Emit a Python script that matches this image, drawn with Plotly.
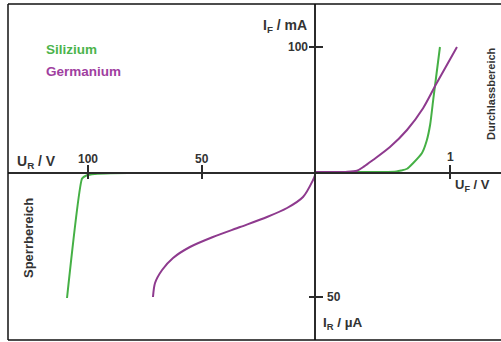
import plotly.graph_objects as go

# ---------------- data ----------------
# forward region (U_F in V, I_F in mA)
si_fwd_u = [0.0, 0.30, 0.50, 0.60, 0.635, 0.68, 0.724, 0.791, 0.826, 0.852, 0.875, 0.900, 0.925]
si_fwd_i = [0.0, 0.02, 0.10, 0.50, 1.2, 2.6, 7.0, 15.2, 25.0, 38.0, 58.0, 79.0, 100.0]
ge_fwd_u = [0.0, 0.22, 0.306, 0.36, 0.425, 0.552, 0.679, 0.799, 0.900, 1.052]
ge_fwd_i = [0.0, 0.1, 1.0, 4.5, 9.6, 20.0, 33.6, 51.0, 71.0, 100.0]
# reverse region (U_R in V, I_R in uA)
si_rev_u = [0.0, 60.0, 90.0, 97.0, 100.5, 102.6, 109.2]
si_rev_i = [0.0, 0.2, 0.5, 0.8, 1.3, 2.6, 50.4]
ge_rev_u = [0.0, 0.4, 1.3, 5.7, 12.7, 21.5, 33.3, 45.2, 55.3, 62.7, 67.5, 70.6, 71.5]
ge_rev_i = [0.0, 1.2, 3.2, 10.0, 14.4, 18.0, 22.0, 26.0, 30.0, 34.4, 39.2, 44.4, 50.0]

fwd_u_ticks = [1]
fwd_u_labels = ["1"]
fwd_i_ticks = [100]
fwd_i_labels = ["100"]
rev_u_ticks = [100, 50]
rev_u_labels = ["100", "50"]
rev_i_ticks = [50]
rev_i_labels = ["50"]

# ---------------- geometry ----------------
W, H = 501, 342
OX, OY = 316, 172          # origin in pixels
PX_FV = 134.0              # px per V (forward)
PX_FI = 1.25               # px per mA
PX_RV = 2.28               # px per V (reverse)
PX_RI = 2.5                # px per uA
LEFT, TOP, BOTTOM = 8, 4, 340

def fx(px):
    return px / W

def fy(py):
    return 1 - py / H

GREEN = "#45b045"
PURPLE = "#8e3a8e"
TXT = "#333333"
AX = "#2b2b2b"
FONT = "Liberation Sans"

fig = go.Figure()

fig.add_trace(go.Scatter(x=si_fwd_u, y=si_fwd_i, xaxis="x", yaxis="y", mode="lines",
                         line=dict(color=GREEN, width=2, shape="spline", smoothing=0.6),
                         showlegend=False, hoverinfo="skip"))
fig.add_trace(go.Scatter(x=ge_fwd_u, y=ge_fwd_i, xaxis="x", yaxis="y", mode="lines",
                         line=dict(color=PURPLE, width=2, shape="spline", smoothing=0.8),
                         showlegend=False, hoverinfo="skip"))
fig.add_trace(go.Scatter(x=si_rev_u, y=si_rev_i, xaxis="x2", yaxis="y2", mode="lines",
                         line=dict(color=GREEN, width=2, shape="spline", smoothing=0.4),
                         showlegend=False, hoverinfo="skip"))
fig.add_trace(go.Scatter(x=ge_rev_u, y=ge_rev_i, xaxis="x2", yaxis="y2", mode="lines",
                         line=dict(color=PURPLE, width=2, shape="spline", smoothing=0.8),
                         showlegend=False, hoverinfo="skip"))

# crossing tick marks
tick_marker_v = dict(symbol="line-ns", size=10, line=dict(color=AX, width=2))
tick_marker_h = dict(symbol="line-ew", size=10, line=dict(color=AX, width=2))
fig.add_trace(go.Scatter(x=fwd_u_ticks, y=[0] * len(fwd_u_ticks), xaxis="x", yaxis="y",
                         mode="markers", marker=tick_marker_v, cliponaxis=False,
                         showlegend=False, hoverinfo="skip"))
fig.add_trace(go.Scatter(x=rev_u_ticks, y=[0] * len(rev_u_ticks), xaxis="x2", yaxis="y2",
                         mode="markers", marker=tick_marker_v, cliponaxis=False,
                         showlegend=False, hoverinfo="skip"))
fig.add_trace(go.Scatter(x=[0] * len(fwd_i_ticks), y=fwd_i_ticks, xaxis="x", yaxis="y",
                         mode="markers", marker=tick_marker_h, cliponaxis=False,
                         showlegend=False, hoverinfo="skip"))
fig.add_trace(go.Scatter(x=[0] * len(rev_i_ticks), y=rev_i_ticks, xaxis="x2", yaxis="y2",
                         mode="markers", marker=tick_marker_h, cliponaxis=False,
                         showlegend=False, hoverinfo="skip"))

axis_common = dict(showgrid=False, zeroline=False, showticklabels=False, ticks="",
                   showline=True, linecolor=AX, linewidth=2, fixedrange=True)

fig.update_layout(
    width=W, height=H,
    margin=dict(l=0, r=0, t=0, b=0),
    paper_bgcolor="white", plot_bgcolor="rgba(0,0,0,0)",
    font=dict(family=FONT, color=TXT, size=12),
    xaxis=dict(domain=[fx(OX), 1], range=[0, (W - OX) / PX_FV], anchor="y", side="bottom", **axis_common),
    xaxis2=dict(domain=[fx(LEFT), fx(OX)], range=[(OX - LEFT) / PX_RV, 0], anchor="y", side="bottom", **axis_common),
    yaxis=dict(domain=[fy(OY), fy(TOP)], range=[0, (OY - TOP) / PX_FI], anchor="x", side="left", **axis_common),
    yaxis2=dict(domain=[fy(BOTTOM), fy(OY)], range=[(BOTTOM - OY) / PX_RI, 0], anchor="x", side="left", **axis_common),
)

# frame
for x0, y0, x1, y1 in [(LEFT, TOP, W, TOP), (LEFT, TOP, LEFT, BOTTOM), (LEFT, BOTTOM, W, BOTTOM)]:
    fig.add_shape(type="line", xref="paper", yref="paper",
                  x0=fx(x0), y0=fy(y0), x1=fx(x1), y1=fy(y1),
                  line=dict(color="#111111", width=1.5))

bold = dict(family=FONT, size=12, color=TXT, weight="bold")
ann = []
# tick labels
for v, t in zip(fwd_u_ticks, fwd_u_labels):
    ann.append(dict(x=v, y=0, xref="x", yref="y", text=t, showarrow=False,
                    xanchor="center", yanchor="middle", yshift=15, font=bold))
for v, t in zip(rev_u_ticks, rev_u_labels):
    ann.append(dict(x=v, y=0, xref="x2", yref="y2", text=t, showarrow=False,
                    xanchor="center", yanchor="middle", yshift=13, font=bold))
for v, t in zip(fwd_i_ticks, fwd_i_labels):
    ann.append(dict(x=0, y=v, xref="x", yref="y", text=t, showarrow=False,
                    xanchor="right", yanchor="middle", xshift=-6, font=bold))
for v, t in zip(rev_i_ticks, rev_i_labels):
    ann.append(dict(x=0, y=v, xref="x2", yref="y2", text=t, showarrow=False,
                    xanchor="left", yanchor="middle", xshift=9, font=bold))

def text_at(px, py, text, xanchor="left", color=TXT, size=12, angle=0):
    ann.append(dict(x=fx(px), y=fy(py), xref="paper", yref="paper", text=text,
                    showarrow=False, xanchor=xanchor, yanchor="middle", textangle=angle,
                    font=dict(family=FONT, size=size, color=color, weight="bold")))

text_at(15, 162, "U<sub>R</sub> / V", size=14)
text_at(453, 185, "U<sub>F</sub> / V", size=13)
text_at(261, 26, "I<sub>F</sub> / mA", size=14)
text_at(321, 323, "I<sub>R</sub> / µA", size=13.5)
text_at(44, 50, "Silizium", color="#4cb44c", size=13.5)
text_at(44, 71, "Germanium", color="#a040a0", size=13.5)
text_at(491, 94, "Durchlassbereich", xanchor="center", angle=-90, size=11)
text_at(28, 238, "Sperrbereich", xanchor="center", angle=-90, size=13)

fig.update_layout(annotations=ann)
fig.write_html("out.html", config={"displayModeBar": False},
               post_script="document.body.style.margin='0';")
